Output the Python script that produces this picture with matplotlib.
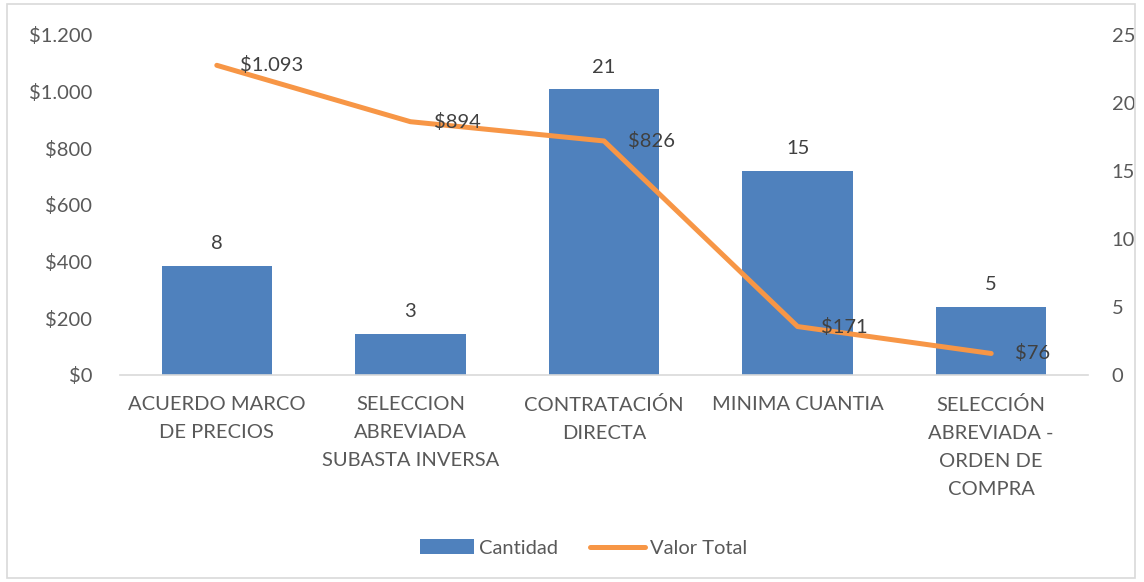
import numpy as np
import matplotlib.pyplot as plt
from matplotlib.patches import Rectangle

plt.rcParams['font.family'] = ['Lato', 'DejaVu Sans']

# data
categorias = ["ACUERDO MARCO\nDE PRECIOS", "SELECCION\nABREVIADA\nSUBASTA INVERSA",
              "CONTRATACIÓN\nDIRECTA", "MINIMA CUANTIA",
              "SELECCIÓN\nABREVIADA -\nORDEN DE\nCOMPRA"]
cantidad = [8, 3, 21, 15, 5]
valor_total = [1093, 894, 826, 171, 76]
valor_labels = ["$1.093", "$894", "$826", "$171", "$76"]
left_ticks = [0, 200, 400, 600, 800, 1000, 1200]
left_tick_labels = ["$0", "$200", "$400", "$600", "$800", "$1.000", "$1.200"]
right_ticks = [0, 5, 10, 15, 20, 25]

txt = '#404040'
tick_c = '#595959'
bar_c = '#4f81bd'
line_c = '#f79646'
fs = 14.5

fig = plt.figure(figsize=(11.44, 5.82), dpi=100)
fig.patches.append(Rectangle((7 / 1144, 4 / 582), 1128 / 1144, 574 / 582, transform=fig.transFigure,
                             fill=False, edgecolor='#d9d9d9', linewidth=1.2))

ax = fig.add_axes([120 / 1144, 1 - 375 / 582, 968 / 1144, 340 / 582])
ax2 = ax.twinx()

x = np.arange(len(categorias))

# bars on right axis
bars = ax2.bar(x, cantidad, width=0.57, color=bar_c, label='Cantidad', zorder=1)
for xi, v in zip(x, cantidad):
    ax2.annotate(str(v), (xi, v), xytext=(0, 10), textcoords='offset points',
                 ha='center', va='bottom', fontsize=fs, color=txt)

# line on left axis (drawn above bars)
ax.set_zorder(ax2.get_zorder() + 1)
ax.patch.set_visible(False)
line, = ax.plot(x, valor_total, color=line_c, linewidth=3.6, solid_capstyle='round', label='Valor Total')
for xi, v, s in zip(x, valor_total, valor_labels):
    ax.annotate(s, (xi, v), xytext=(17, 0), textcoords='offset points',
                ha='left', va='center', fontsize=fs, color=txt)

ax.set_xlim(-0.5, len(categorias) - 0.5)
ax.set_ylim(0, 1200)
ax2.set_ylim(0, 25)
ax.set_yticks(left_ticks)
ax.set_yticklabels(left_tick_labels)
ax2.set_yticks(right_ticks)
ax.set_xticks(x)
ax.set_xticklabels(categorias, fontsize=fs, color=tick_c, linespacing=1.78, va='top')

for a in (ax, ax2):
    for sp in a.spines.values():
        sp.set_visible(False)
    a.tick_params(axis='both', length=0, labelsize=fs, colors=tick_c)
ax.spines['bottom'].set_visible(True)
ax.spines['bottom'].set_color('#d9d9d9')
ax.spines['bottom'].set_linewidth(1.2)
ax.tick_params(axis='y', pad=20)
ax.tick_params(axis='x', pad=15)
ax2.tick_params(axis='y', pad=17)

fig.legend([bars, line], ['Cantidad', 'Valor Total'], loc='center', bbox_to_anchor=(0.51, 1 - 548 / 582),
           ncol=2, frameon=False, fontsize=fs, labelcolor=tick_c, handlelength=2.7, columnspacing=1.6,
           handletextpad=0.25)

fig.savefig('out.png', dpi=100)
